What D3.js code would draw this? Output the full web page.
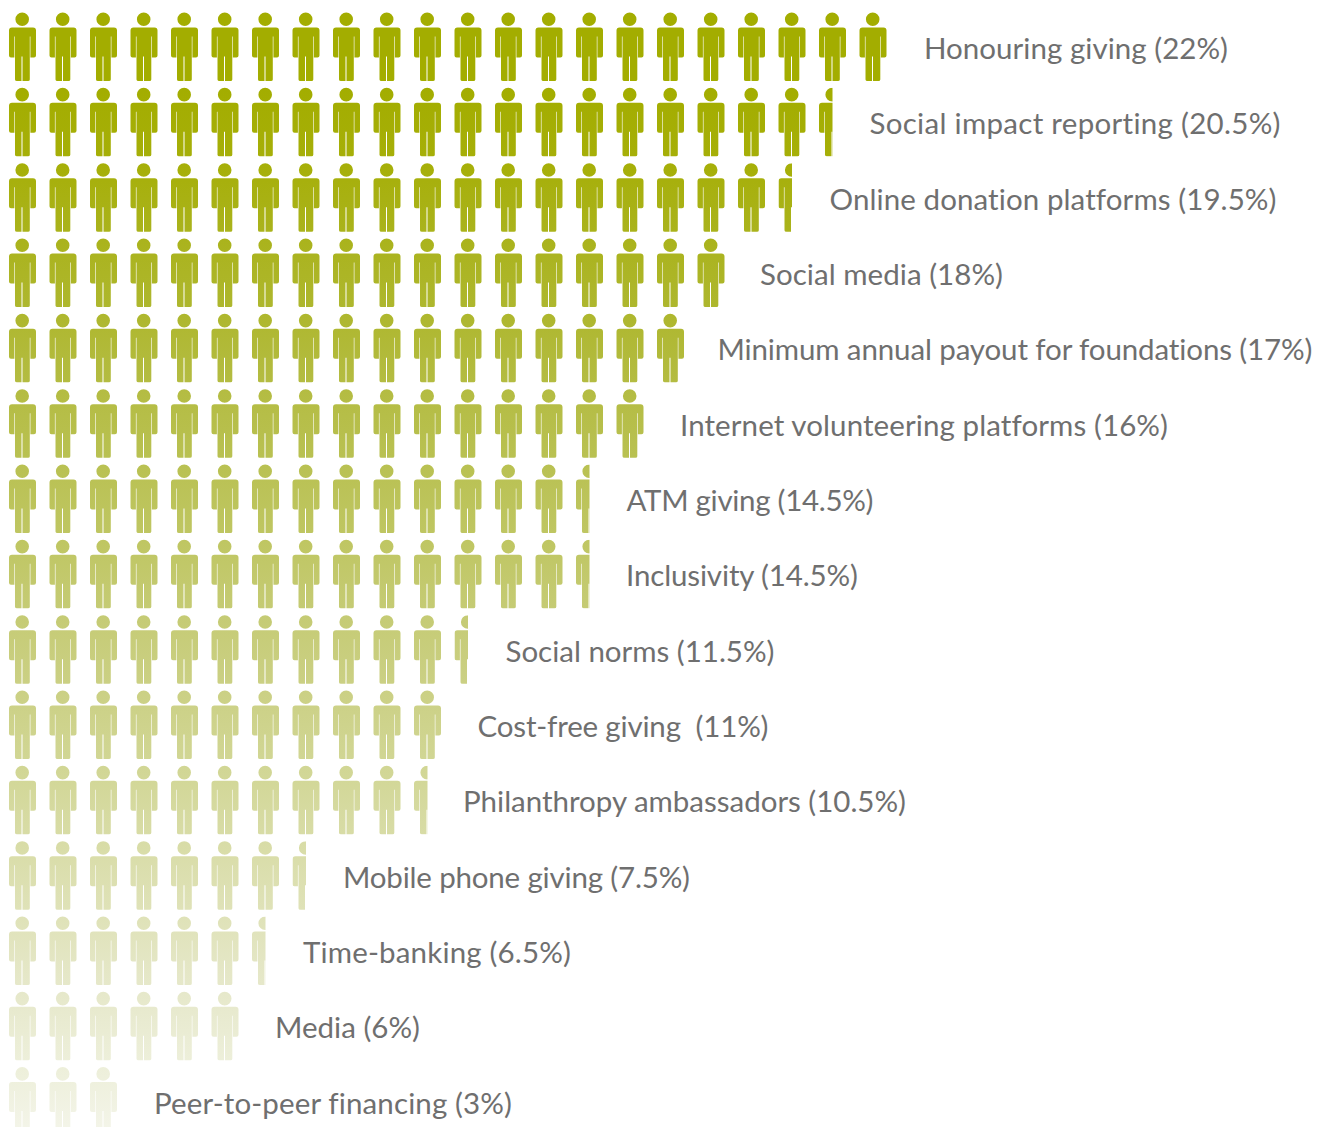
<!doctype html>
<html>
<head>
    <meta charset="utf-8">
    <title>Philanthropy trends pictogram</title>
    <script src="https://cdn.jsdelivr.net/npm/d3@7"></script>
    <style>
        html, body { margin: 0; padding: 0; background: #fff; overflow: hidden; }
        svg { display: block; }
        text {
            font-family: Lato, "Open Sans", sans-serif;
            font-size: 29.5px;
            font-variant-ligatures: none;
            fill: #6f6f6f;
            white-space: pre;
        }
    </style>
</head>
<body>
    <script>
        "use strict";

        const categories = [
            "Honouring giving", "Social impact reporting", "Online donation platforms",
            "Social media", "Minimum annual payout for foundations",
            "Internet volunteering platforms", "ATM giving", "Inclusivity",
            "Social norms", "Cost-free giving ", "Philanthropy ambassadors",
            "Mobile phone giving", "Time-banking", "Media", "Peer-to-peer financing"
        ];
        const values = [22, 20.5, 19.5, 18, 17, 16, 14.5, 14.5, 11.5, 11, 10.5, 7.5, 6.5, 6, 3];
        // colour at the top of each row, the last one is the bottom of the chart
        const shades = ["#a3ad00", "#a3ad00", "#a6af08", "#aab31c", "#aeb72e", "#b4bc42", "#b9c152", "#bfc662",
            "#c5cb74", "#cbd084", "#d1d694", "#d8dca6", "#dfe2b8", "#e6e8ca", "#edefda", "#f4f5ea"];

        const width = 1330;
        const height = 1127;
        const personW = 27;
        const personH = 69;
        const labelGap = [37.5, 37, 37.5, 35.5, 33.5, 36.5, 37, 36.5, 37.5, 36.5, 35.5, 37, 37.5, 36.5, 37];
        const labelWidth = [304, 411, 447, 243, 595, 488, 247, 232, 269, 291, 443, 347, 268, 145, 358];

        // one person per percent, x measured in people
        const x = d3.scaleLinear().domain([0, 22]).range([9, 9 + 22 * 40.5]);
        const y = d3.scaleBand().domain(categories).range([12.5, 12.5 + 15 * 75.33]);

        const personPath = d3.path();
        personPath.arc(13.2, 6.8, 6.8, 0, 2 * Math.PI);
        personPath.closePath();
        personPath.moveTo(3, 15);
        personPath.lineTo(24, 15);
        personPath.quadraticCurveTo(27, 15, 27, 18);
        personPath.lineTo(27, 43);
        personPath.quadraticCurveTo(27, 45, 25, 45);
        personPath.lineTo(21.4, 45);
        personPath.lineTo(21.4, 24);
        personPath.lineTo(20.8, 24);
        personPath.lineTo(20.8, 67);
        personPath.quadraticCurveTo(20.8, 68.5, 19, 68.5);
        personPath.lineTo(13.5, 68.5);
        personPath.lineTo(13.5, 44);
        personPath.lineTo(12.5, 44);
        personPath.lineTo(12.5, 68.5);
        personPath.lineTo(8, 68.5);
        personPath.quadraticCurveTo(6, 68.5, 6, 67);
        personPath.lineTo(6, 24);
        personPath.lineTo(5.4, 24);
        personPath.lineTo(5.4, 45);
        personPath.lineTo(2, 45);
        personPath.quadraticCurveTo(0, 45, 0, 43);
        personPath.lineTo(0, 18);
        personPath.quadraticCurveTo(0, 15, 3, 15);
        personPath.closePath();

        const svg = d3.select("body").append("svg")
            .attr("width", width)
            .attr("height", height)
            .attr("viewBox", [0, 0, width, height]);

        const defs = svg.append("defs");

        const rows = svg.selectAll("g.row")
            .data(categories.map((name, i) => ({ name, value: values[i], i })))
            .join("g")
            .attr("class", "row")
            .attr("transform", d => `translate(0,${y(d.name)})`);

        rows.each(function (d) {
            const whole = Math.floor(d.value);
            const frac = d.value - whole;
            const people = d3.range(Math.ceil(d.value));
            const row = d3.select(this);

            const grad = defs.append("linearGradient")
                .attr("id", `fade-${d.i}`)
                .attr("x1", 0).attr("x2", 0)
                .attr("y1", 0).attr("y2", 1);
            grad.append("stop").attr("offset", 0).attr("stop-color", shades[d.i]);
            grad.append("stop").attr("offset", 1).attr("stop-color", shades[d.i + 1]);

            if (frac > 0) {
                defs.append("clipPath")
                    .attr("id", `cut-${d.i}`)
                    .append("rect")
                    .attr("width", personW * frac)
                    .attr("height", personH);
            }

            row.selectAll("path")
                .data(people)
                .join("path")
                .attr("d", personPath.toString())
                .attr("fill", `url(#fade-${d.i})`)
                .attr("transform", p => `translate(${x(p)},0)`)
                .attr("clip-path", p => p === whole ? `url(#cut-${d.i})` : null);

            const end = frac > 0 ? x(whole) + personW * frac : x(whole - 1) + personW;
            row.append("text")
                .attr("x", end + labelGap[d.i])
                .attr("y", 46.5)
                .attr("textLength", labelWidth[d.i])
                .attr("lengthAdjust", "spacing")
                .text(`${d.name} (${d.value}%)`);
        });
    </script>
</body>
</html>
